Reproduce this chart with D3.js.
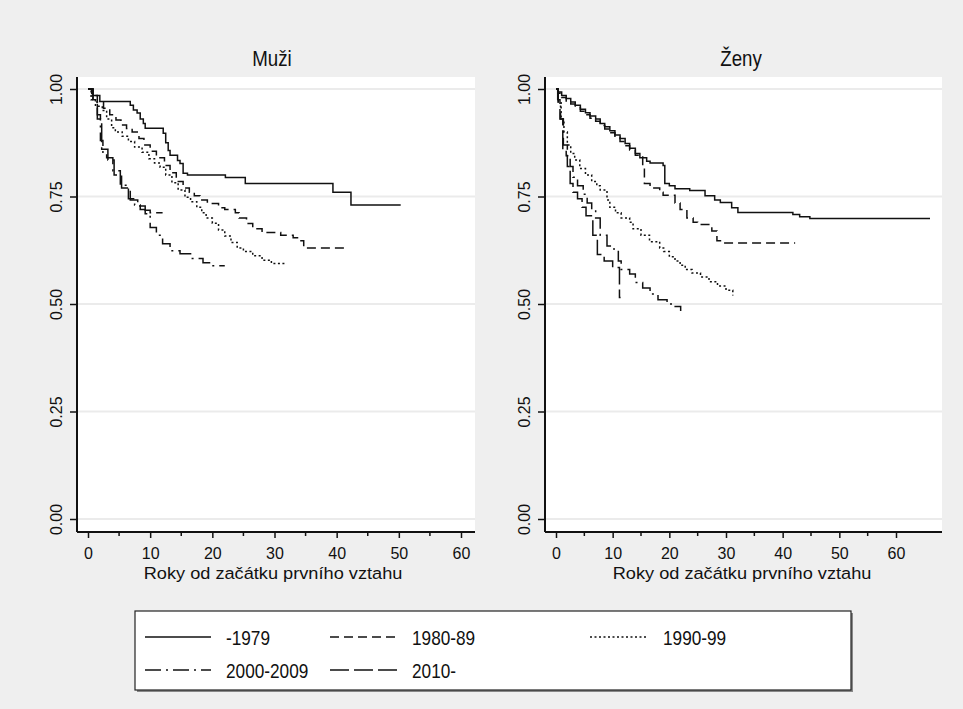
<!DOCTYPE html>
<html>
<head>
<meta charset="utf-8">
<script src="https://cdn.jsdelivr.net/npm/d3@7"></script>
<style>
  body { margin: 0; background: #efefef; }
  text { font-family: "Liberation Sans", Arial, sans-serif; fill: #111; }
</style>
</head>
<body>
<div id="target"></div>
<script>
const width = 963;
const height = 709;

// survival estimates: [years, S(t)]
const muzi1979 = [[0,1],[0.8,0.985],[1.9,0.971],[6.8,0.962],[7.3,0.951],[7.9,0.944],[8.4,0.93],[8.9,0.92],[9.2,0.909],[12.1,0.897],[12.5,0.875],[12.9,0.857],[13.2,0.846],[14.4,0.834],[14.8,0.827],[15.3,0.804],[16,0.80],[22.1,0.794],[25.3,0.78],[39.4,0.76],[42.3,0.73],[50.3,0.73]];
const muzi1980 = [[0,1],[0.6,0.985],[1.5,0.97],[2.5,0.955],[3.5,0.94],[4.5,0.928],[5.3,0.916],[6.2,0.908],[7.1,0.90],[8.2,0.885],[9,0.87],[10,0.855],[11,0.84],[12.3,0.822],[13.2,0.805],[14.2,0.785],[15.3,0.77],[16.3,0.76],[17.1,0.752],[18,0.742],[19.2,0.734],[21,0.724],[22,0.72],[23.7,0.712],[24.3,0.70],[25.5,0.687],[26.5,0.675],[28,0.666],[31,0.66],[33,0.654],[33.7,0.647],[34.7,0.63],[41.5,0.63]];
const muzi1990 = [[0,1],[0.5,0.975],[1.2,0.96],[2.3,0.95],[3,0.93],[3.8,0.91],[4.4,0.90],[5.5,0.89],[6.5,0.878],[7.5,0.865],[8.7,0.853],[9.8,0.838],[10.7,0.828],[11.6,0.818],[12.5,0.80],[13.5,0.782],[14.5,0.765],[15.6,0.748],[16.5,0.738],[17.5,0.725],[18.3,0.712],[19,0.70],[20,0.688],[21,0.672],[22,0.658],[23,0.643],[24,0.63],[25,0.622],[26.5,0.612],[28,0.602],[29.5,0.594],[32,0.594]];
const muzi2000 = [[0,1],[0.8,0.97],[1.5,0.93],[2,0.88],[2.4,0.85],[3,0.84],[4,0.81],[5.2,0.776],[6.5,0.745],[7.5,0.73],[8.4,0.72],[9.2,0.71],[10,0.678],[11,0.66],[12,0.64],[13.2,0.624],[14.8,0.617],[16.5,0.606],[18.5,0.596],[19.7,0.589],[22,0.589]];
const muzi2010 = [[0,1],[0.8,0.975],[1.5,0.94],[2,0.93],[2.2,0.86],[3.2,0.835],[4.2,0.80],[5.4,0.77],[6.8,0.742],[8,0.728],[9.2,0.718],[10,0.712],[12,0.712]];

const zeny1979 = [[0,1],[0.4,0.993],[1,0.985],[1.8,0.978],[2.6,0.97],[3.4,0.962],[4.3,0.953],[5.2,0.945],[6,0.937],[7,0.93],[7.8,0.92],[8.6,0.912],[9.5,0.903],[10.4,0.893],[11.3,0.885],[12.2,0.873],[13,0.862],[14,0.85],[14.8,0.84],[16,0.832],[16.6,0.828],[18.9,0.822],[19.2,0.78],[20,0.775],[21,0.768],[23.6,0.764],[26.3,0.752],[28,0.742],[29,0.736],[31,0.724],[32.1,0.713],[41.8,0.708],[43,0.703],[44.8,0.699],[66,0.699]];
const zeny1980 = [[0,1],[0.4,0.99],[1,0.98],[1.8,0.972],[2.6,0.965],[3.4,0.957],[4.3,0.948],[5.2,0.94],[6,0.932],[7,0.925],[7.8,0.915],[8.6,0.907],[9.5,0.898],[10.4,0.888],[11.3,0.878],[12.2,0.868],[13,0.858],[14,0.846],[15.3,0.818],[15.6,0.78],[16.6,0.77],[18.3,0.76],[18.9,0.753],[21,0.735],[21.9,0.72],[23.1,0.70],[24.2,0.69],[25,0.685],[27.5,0.67],[28.4,0.647],[29.3,0.642],[42.2,0.642]];
const zeny1990 = [[0,1],[0.4,0.97],[0.9,0.93],[1.4,0.90],[2,0.87],[2.6,0.85],[3.3,0.835],[4.2,0.815],[5.2,0.80],[6.3,0.785],[7.2,0.775],[7.8,0.765],[9,0.742],[9.5,0.725],[10.5,0.712],[11.5,0.70],[13,0.69],[13.6,0.675],[15,0.66],[16.5,0.645],[18.3,0.63],[19,0.622],[20,0.61],[21,0.60],[21.9,0.59],[22.8,0.58],[24,0.572],[25.5,0.563],[27,0.552],[28.5,0.542],[30,0.532],[31.2,0.52]];
const zeny2000 = [[0,1],[0.4,0.96],[0.8,0.93],[1.3,0.87],[2,0.845],[2.5,0.82],[3,0.795],[3.8,0.775],[4.8,0.755],[5.5,0.735],[6.3,0.72],[7,0.70],[7.8,0.66],[9,0.635],[10,0.628],[11,0.60],[11.5,0.58],[13,0.57],[14,0.55],[15.3,0.537],[16.6,0.523],[18,0.51],[19.6,0.50],[20.6,0.494],[22,0.484]];
const zeny2010 = [[0,1],[0.3,0.975],[0.7,0.93],[1.2,0.86],[1.8,0.845],[2,0.82],[2.5,0.78],[3,0.76],[3.8,0.745],[4.6,0.725],[5.3,0.705],[6.5,0.66],[7.3,0.615],[8.5,0.60],[10,0.585],[11.2,0.515],[11.4,0.515]];

const cohorts = ['-1979', '1980-89', '1990-99', '2000-2009', '2010-'];
const panelTitles = ['Muži', 'Ženy'];
const xTicks = [0, 10, 20, 30, 40, 50, 60];
const yTicks = [0, 0.25, 0.5, 0.75, 1];
const xTitle = 'Roky od začátku prvního vztahu';

const dashes = {
  '-1979': null,
  '1980-89': '9,5',
  '1990-99': '2,2.5',
  '2000-2009': '16,5,2,5',
  '2010-': '19,5'
};

const panels = [
  {title: panelTitles[0], left: 77, right: 475, x0: 88, x60: 461, mid: 273, series: [muzi1979, muzi1980, muzi1990, muzi2000, muzi2010]},
  {title: panelTitles[1], left: 545, right: 942, x0: 556, x60: 896, mid: 742, series: [zeny1979, zeny1980, zeny1990, zeny2000, zeny2010]}
];
const plotTop = 77;
const plotBottom = 532;
const font = '"Liberation Sans", Arial, sans-serif';

const svg = d3.select('#target')
  .append('svg')
  .attr('width', width)
  .attr('height', height);

svg.append('rect')
  .attr('width', width).attr('height', height)
  .attr('fill', '#efefef');

const y = d3.scaleLinear()
  .domain([0, 1])
  .range([519, 89]);

panels.forEach((p) => {
  const x = d3.scaleLinear()
    .domain([0, 60])
    .range([p.x0, p.x60]);

  const g = svg.append('g');

  g.append('rect')
    .attr('x', p.left).attr('y', plotTop)
    .attr('width', p.right - p.left).attr('height', plotBottom - plotTop)
    .attr('fill', '#fff');

  // grid
  g.selectAll('.grid')
    .data(yTicks)
    .enter().append('line')
    .attr('x1', p.left).attr('x2', p.right)
    .attr('y1', (d) => y(d)).attr('y2', (d) => y(d))
    .attr('stroke', '#ebebeb')
    .attr('stroke-width', 2);

  // y axis
  const yAxis = g.append('g')
    .attr('transform', `translate(${p.left},0)`)
    .call(d3.axisLeft(y).tickValues(yTicks).tickSize(7).tickPadding(8).tickFormat(d3.format('.2f')));
  yAxis.select('.domain').attr('d', `M0,${plotTop}V${plotBottom}`).attr('stroke', '#111').attr('stroke-width', 2);
  yAxis.selectAll('.tick line').attr('stroke', '#111').attr('stroke-width', 1.5);
  yAxis.selectAll('.tick text')
    .attr('transform', 'rotate(-90)')
    .attr('x', 0).attr('y', -15)
    .attr('dy', 0)
    .attr('text-anchor', 'middle')
    .style('font-size', '16px')
    .style('font-family', font)
    .attr('fill', '#222');

  // x axis
  const xAxis = g.append('g')
    .attr('transform', `translate(0,${plotBottom})`)
    .call(d3.axisBottom(x).tickValues(xTicks).tickSize(6).tickPadding(10));
  xAxis.select('.domain').attr('d', `M${p.left},0H${p.right}`).attr('stroke', '#111').attr('stroke-width', 2);
  xAxis.selectAll('.tick line').attr('stroke', '#111').attr('stroke-width', 1.5);
  xAxis.selectAll('.tick text')
    .style('font-size', '16px')
    .style('font-family', font)
    .attr('fill', '#222');
  g.selectAll('.minor')
    .data(d3.range(5, 60, 10))
    .enter().append('line')
    .attr('x1', (d) => x(d)).attr('x2', (d) => x(d))
    .attr('y1', plotBottom).attr('y2', plotBottom + 4)
    .attr('stroke', '#111').attr('stroke-width', 1.5);

  g.append('text')
    .attr('transform', `translate(${p.mid},579) scale(1.07,1)`)
    .attr('text-anchor', 'middle')
    .style('font-size', '17px')
    .attr('fill', '#222')
    .text(xTitle);

  g.append('text')
    .attr('transform', `translate(${p.mid - 1},66) scale(0.85,1)`)
    .attr('text-anchor', 'middle')
    .style('font-size', '22px')
    .text(p.title);

  const line = d3.line()
    .x((d) => x(d[0]))
    .y((d) => y(d[1]))
    .curve(d3.curveStepAfter);

  p.series.forEach((s, i) => {
    g.append('path')
      .datum(s)
      .attr('d', line)
      .attr('fill', 'none')
      .attr('stroke', '#111')
      .attr('stroke-width', 1.5)
      .attr('stroke-dasharray', dashes[cohorts[i]]);
  });
});

// legend
const legend = svg.append('g');
legend.append('rect')
  .attr('x', 137).attr('y', 613).attr('width', 716).attr('height', 79)
  .attr('fill', '#888');
legend.append('rect')
  .attr('x', 135).attr('y', 611).attr('width', 716).attr('height', 79)
  .attr('fill', '#fff').attr('stroke', '#222').attr('stroke-width', 1.2);

const legendPos = [
  {x: 145, y: 637}, {x: 330, y: 637}, {x: 590, y: 637},
  {x: 145, y: 670}, {x: 330, y: 670}
];
const legendLen = [66, 67, 58, 66, 67];

cohorts.forEach((c, i) => {
  const pos = legendPos[i];
  legend.append('line')
    .attr('x1', pos.x).attr('x2', pos.x + legendLen[i])
    .attr('y1', pos.y).attr('y2', pos.y)
    .attr('stroke', '#111').attr('stroke-width', 1.5)
    .attr('stroke-dasharray', dashes[c]);
  legend.append('text')
    .attr('transform', `translate(${pos.x + legendLen[i] + 15},${pos.y + 8}) scale(0.82,1)`)
    .style('font-size', '21px')
    .text(c);
});
</script>
</body>
</html>
